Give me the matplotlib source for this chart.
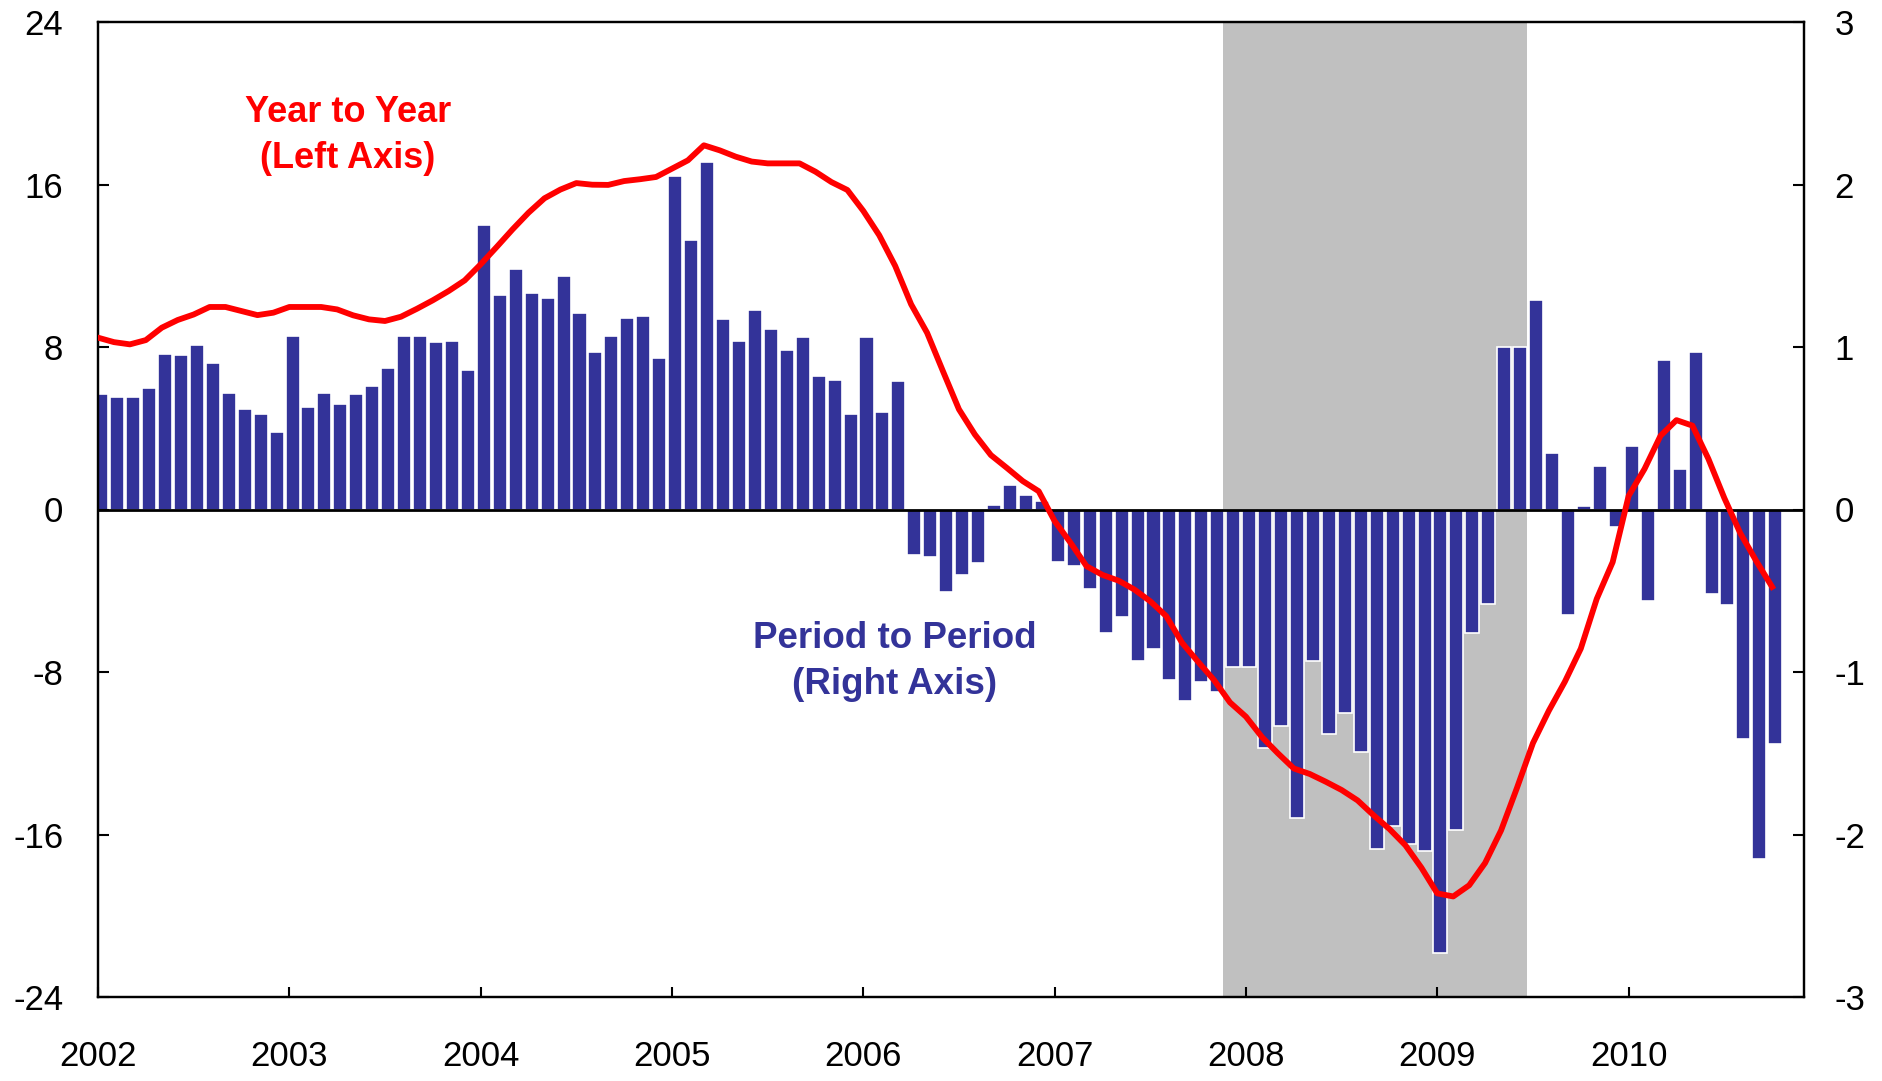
import numpy as np
import matplotlib
matplotlib.use("Agg")
import matplotlib.pyplot as plt

plt.rcParams['font.family'] = ['Liberation Sans', 'DejaVu Sans']
plt.rcParams['axes.unicode_minus'] = False

# monthly, Jan 2002 - Oct 2010
period_to_period = [
    0.71, 0.69, 0.69, 0.75, 0.96, 0.95, 1.01, 0.90, 0.72, 0.62, 0.59, 0.48,
    1.07, 0.63, 0.72, 0.65, 0.71, 0.76, 0.87, 1.07, 1.07, 1.03, 1.04, 0.86,
    1.75, 1.32, 1.48, 1.33, 1.30, 1.44, 1.21, 0.97, 1.07, 1.18, 1.19, 0.93,
    2.05, 1.66, 2.14, 1.17, 1.04, 1.23, 1.11, 0.98, 1.06, 0.82, 0.80, 0.59,
    1.06, 0.60, 0.79, -0.28, -0.29, -0.51, -0.40, -0.33, 0.03, 0.15, 0.09, 0.05,
    -0.32, -0.35, -0.49, -0.76, -0.66, -0.93, -0.86, -1.05, -1.18, -1.06, -1.12, -0.97,
    -0.97, -1.47, -1.33, -1.90, -0.93, -1.38, -1.25, -1.49, -2.09, -1.95, -2.06, -2.10,
    -2.73, -1.97, -0.76, -0.58, 1.00, 1.00, 1.29, 0.35, -0.65, 0.02, 0.27, -0.11,
    0.39, -0.56, 0.92, 0.25, 0.97, -0.52, -0.59, -1.41, -2.15, -1.44,
]
year_to_year = [
    8.46, 8.24, 8.13, 8.34, 8.95, 9.33, 9.60, 9.97, 9.97, 9.77, 9.57, 9.69,
    9.97, 9.97, 9.97, 9.85, 9.56, 9.36, 9.28, 9.49, 9.88, 10.30, 10.76, 11.28,
    12.07, 12.92, 13.79, 14.61, 15.32, 15.75, 16.07, 15.99, 15.98, 16.17, 16.26, 16.37,
    16.78, 17.19, 17.93, 17.68, 17.37, 17.13, 17.04, 17.04, 17.04, 16.63, 16.12, 15.73,
    14.70, 13.50, 11.99, 10.10, 8.70, 6.80, 4.93, 3.69, 2.68, 2.05, 1.40, 0.90,
    -0.57, -1.64, -2.79, -3.22, -3.50, -3.94, -4.52, -5.25, -6.57, -7.50, -8.40, -9.50,
    -10.20, -11.20, -12.00, -12.75, -13.02, -13.40, -13.81, -14.32, -15.05, -15.73, -16.53, -17.63,
    -18.90, -19.05, -18.50, -17.40, -15.80, -13.70, -11.50, -9.90, -8.48, -6.85, -4.40, -2.59,
    0.67, 2.00, 3.63, 4.40, 4.13, 2.50, 0.57, -1.16, -2.53, -3.81,
]
years = list(range(2002, 2011))
recession = (71, 89)  # Dec 2007 - Jun 2009, month index

navy = '#333399'
red = '#FF0000'

n = len(period_to_period)
months = np.arange(n)

fig = plt.figure(figsize=(18.83, 10.81), dpi=100)
ax = fig.add_axes([98 / 1883, 1 - 997 / 1081, 1706 / 1883, 975 / 1081])

ax.axvspan(recession[0] - 0.45, recession[1] + 0.63, color='#C0C0C0', lw=0, zorder=0)
ax.bar(months + 0.2, period_to_period, width=0.88, color=navy,
       edgecolor='white', linewidth=1.2, zorder=2)
ax.axhline(0, color='black', lw=2, zorder=3)
ax.set_ylim(-3, 3)
ax.set_xlim(0, 107)
ax.set_yticks(np.arange(-3, 4, 1))
ax.set_xticks([12 * i for i in range(len(years))])
ax.set_xticklabels([str(y) for y in years])

ax2 = ax.twinx()
ax2.plot(months, year_to_year, color=red, lw=4.2, solid_joinstyle='round', zorder=4)
ax2.set_ylim(-24, 24)
ax2.set_yticks(np.arange(-24, 25, 8))
ax2.yaxis.tick_left()
ax2.set_xlim(0, 107)
ax.yaxis.tick_right()

for a in (ax, ax2):
    for s in a.spines.values():
        s.set_linewidth(1.6)
ax.tick_params(axis='x', direction='in', length=7, width=1.5, pad=31, labelsize=25)
ax.tick_params(axis='y', direction='in', length=8, width=1.5, pad=22, labelsize=25)
ax2.tick_params(axis='y', direction='in', length=8, width=1.5, pad=25, labelsize=25)

ax.text(0.1466, 0.884, 'Year to Year\n(Left Axis)', transform=ax.transAxes,
        ha='center', va='center', color=red, fontsize=26, fontweight='bold',
        linespacing=1.4, zorder=6)
ax2.text(0.467, 0.344, 'Period to Period\n(Right Axis)', transform=ax2.transAxes,
         ha='center', va='center', color=navy, fontsize=26.5, fontweight='bold',
         linespacing=1.4, zorder=6)

fig.savefig('out.png', dpi=100)
